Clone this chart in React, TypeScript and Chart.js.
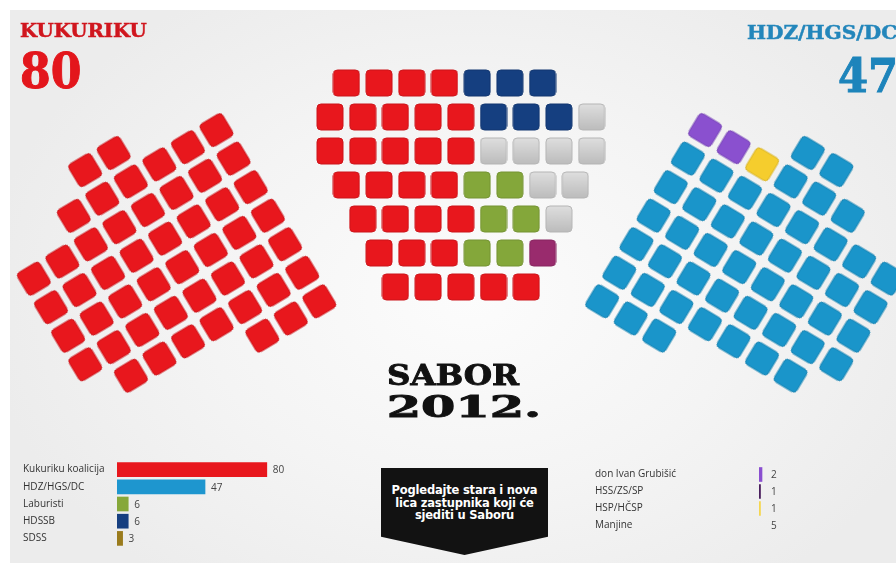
import React, { useEffect, useRef } from 'react';
import { Chart, registerables } from 'chart.js';
Chart.register(...registerables);

const W = 896;
const H = 563;

// ---- data ----
const partyNames = ['Kukuriku koalicija', 'HDZ/HGS/DC', 'Laburisti', 'HDSSB', 'SDSS'];
const partySeats = [80, 47, 6, 6, 3];
const partyColors = ['#e8171d', '#1e96cf', '#86a83a', '#163f80', '#9a7b1c'];

const minorNames = ['don Ivan Grubišić', 'HSS/ZS/SP', 'HSP/HČSP', 'Manjine'];
const minorSeats = [2, 1, 1, 5];
const minorColors = ['#8a4fd0', '#4a1f5e', '#f5d650', 'rgba(0,0,0,0)'];

// seat codes: K Kukuriku, H HDZ/HGS/DC, L Laburisti, B HDSSB, M manjine (SDSS + ostale),
// S HSS/ZS/SP, G don Ivan Grubišić, P HSP/HČSP
const seatColors: Record<string, string> = {
  K: '#e8171d', H: '#1a95ca', L: '#84a73a', B: '#153f80',
  M: '#c9c9c9', S: '#992b6d', G: '#8a50cf', P: '#f5cd2d',
};
const leftWingFill: [string, number][] = [['K', 50]];
const rightWingFill: [string, number][] = [['H', 2], ['G', 2], ['P', 1], ['H', 45]];
const centerRows = ['KKKKBBB', 'KKKKKBBBM', 'KKKKKMMMM', 'KKKKLLMM', 'KKKKLLM', 'KKKLLS', 'KKKKK'];

// ---- layout (not data) ----
const centerShift = [0.5, 0, 0, 0.5, 1, 1.5, 2];
const wingRows: [number, number][] = [[3, 4], [2, 7], [0, 7], [0, 7], [0, 7], [0, 7], [1, 7], [5, 7]];
const WING_LAST = 7;
const PITCH = 33.3;
const ANGLE = 31;
const LEFT_O = { x: -0.5, y: 221.6 };
const RIGHT_O = { x: 722.2, y: 101.5 };
const CENTER_O = { x: 330, y: 83 };
const CENTER_PX = 32.7;
const CENTER_PY = 34;
const SEAT = 26;

type Seat = { x: number; y: number; rot: number; code: string };

function expand(fill: [string, number][]): string[] {
  const out: string[] = [];
  fill.forEach(([c, n]) => { for (let i = 0; i < n; i++) out.push(c); });
  return out;
}

function buildSeats(): Seat[] {
  const seats: Seat[] = [];
  const rad = (ANGLE * Math.PI) / 180;
  const c = Math.cos(rad) * PITCH;
  const s = Math.sin(rad) * PITCH;
  const lc = expand(leftWingFill);
  let k = 0;
  wingRows.forEach(([a, b], j) => {
    for (let i = a; i <= b; i++) {
      seats.push({ x: LEFT_O.x + i * c + j * s, y: LEFT_O.y - i * s + j * c, rot: -ANGLE, code: lc[k++] });
    }
  });
  const rc = expand(rightWingFill);
  k = 0;
  wingRows.forEach(([a, b], j) => {
    for (let i = WING_LAST - b; i <= WING_LAST - a; i++) {
      seats.push({ x: RIGHT_O.x + i * c - j * s, y: RIGHT_O.y + i * s + j * c, rot: ANGLE, code: rc[k++] });
    }
  });
  centerRows.forEach((row, r) => {
    row.split('').forEach((code, ci) => {
      seats.push({ x: CENTER_O.x + (centerShift[r] + ci) * CENTER_PX, y: CENTER_O.y + r * CENTER_PY, rot: 0, code });
    });
  });
  return seats;
}

function shade(hex: string, f: number): string {
  const n = parseInt(hex.slice(1), 16);
  const r = Math.max(0, Math.min(255, Math.round(((n >> 16) & 255) * f)));
  const g = Math.max(0, Math.min(255, Math.round(((n >> 8) & 255) * f)));
  const b = Math.max(0, Math.min(255, Math.round((n & 255) * f)));
  return `rgb(${r},${g},${b})`;
}

function seatImage(code: string): HTMLCanvasElement {
  const cv = document.createElement('canvas');
  cv.width = SEAT + 2;
  cv.height = SEAT + 2;
  const g = cv.getContext('2d')!;
  const r = 4;
  const x0 = 1, y0 = 1, w = SEAT, h = SEAT;
  g.beginPath();
  g.moveTo(x0 + r, y0);
  g.lineTo(x0 + w - r, y0);
  g.quadraticCurveTo(x0 + w, y0, x0 + w, y0 + r);
  g.lineTo(x0 + w, y0 + h - r);
  g.quadraticCurveTo(x0 + w, y0 + h, x0 + w - r, y0 + h);
  g.lineTo(x0 + r, y0 + h);
  g.quadraticCurveTo(x0, y0 + h, x0, y0 + h - r);
  g.lineTo(x0, y0 + r);
  g.quadraticCurveTo(x0, y0, x0 + r, y0);
  g.closePath();
  const base = seatColors[code];
  if (code === 'M') {
    const gr = g.createLinearGradient(0, y0, 0, y0 + h);
    gr.addColorStop(0, '#dedede');
    gr.addColorStop(1, '#bcbcbc');
    g.fillStyle = gr;
  } else {
    g.fillStyle = base;
  }
  g.fill();
  g.lineWidth = 1;
  g.strokeStyle = code === 'M' ? '#b5b5b5' : shade(base, 0.88);
  g.stroke();
  return cv;
}

const valuePlugin = (fixedX: number | null) => ({
  id: 'valueLabels',
  afterDatasetsDraw(chart: any) {
    const ctx = chart.ctx;
    const meta = chart.getDatasetMeta(0);
    const data = chart.data.datasets[0].data as number[];
    ctx.save();
    ctx.font = '10px "Open Sans"';
    ctx.fillStyle = '#444';
    ctx.textBaseline = 'middle';
    ctx.textAlign = 'left';
    meta.data.forEach((el: any, i: number) => {
      const x = fixedX == null ? el.x + 6 : chart.chartArea.left + fixedX;
      ctx.fillText(String(data[i]), x, el.y + 1);
    });
    ctx.restore();
  },
});

function barOptions(axisWidth: number, xMax: number): any {
  return {
    responsive: false,
    animation: false,
    indexAxis: 'y',
    events: [],
    layout: { padding: 0, autoPadding: false },
    plugins: { legend: { display: false }, tooltip: { enabled: false } },
    scales: {
      x: { display: false, min: 0, max: xMax },
      y: {
        grid: { display: false },
        border: { display: false },
        ticks: { crossAlign: 'far', padding: 0, color: '#333', font: { family: 'Open Sans', size: 10 }, autoSkip: false },
        afterFit: (scale: any) => { scale.width = axisWidth; },
      },
    },
  };
}

const serif = '"DejaVu Serif", "Liberation Serif", serif';

function Txt(props: { left: number; top: number; size: number; color: string; text: string; sx?: number; width?: number; align?: 'left' | 'center'; stroke?: number }) {
  const { left, top, size, color, text, sx = 1, width, align = 'left', stroke = 0 } = props;
  return (
    <div
      style={{
        position: 'absolute', left, top, width, fontFamily: serif, fontWeight: 'bold', fontSize: size,
        lineHeight: 1, color, whiteSpace: 'nowrap', textAlign: align,
        WebkitTextStroke: stroke ? `${stroke}px ${color}` : undefined,
        transform: `scaleX(${sx})`, transformOrigin: align === 'center' ? 'center top' : 'left top',
      }}
    >
      {text}
    </div>
  );
}

export default function App() {
  const seatRef = useRef<HTMLCanvasElement>(null);
  const leftRef = useRef<HTMLCanvasElement>(null);
  const rightRef = useRef<HTMLCanvasElement>(null);

  useEffect(() => {
    const seats = buildSeats();
    const codes = Object.keys(seatColors);
    const seatChart = new Chart(seatRef.current!, {
      type: 'scatter',
      data: {
        datasets: codes.map((code) => ({
          label: code,
          data: seats.filter((s) => s.code === code).map((s) => ({ x: s.x, y: s.y, rot: s.rot })) as any,
          pointStyle: seatImage(code) as any,
          pointRadius: 14,
          rotation: ((ctx: any) => (ctx.raw ? ctx.raw.rot : 0)) as any,
          clip: false as any,
        })),
      },
      options: {
        responsive: false,
        animation: false,
        events: [],
        layout: { padding: 0, autoPadding: false },
        plugins: { legend: { display: false }, tooltip: { enabled: false } },
        scales: {
          x: { type: 'linear', min: 0, max: W, display: false },
          y: { type: 'linear', min: 0, max: H, reverse: true, display: false },
        },
      } as any,
    });

    const leftChart = new Chart(leftRef.current!, {
      type: 'bar',
      data: {
        labels: partyNames,
        datasets: [{ data: partySeats, backgroundColor: partyColors, barThickness: 14 }],
      },
      options: barOptions(94, 110),
      plugins: [valuePlugin(null)],
    });

    const rightChart = new Chart(rightRef.current!, {
      type: 'bar',
      data: {
        labels: minorNames,
        datasets: [{ data: minorSeats, backgroundColor: minorColors, barThickness: 14 }],
      },
      options: barOptions(164, 24),
      plugins: [valuePlugin(12)],
    });

    return () => {
      seatChart.destroy();
      leftChart.destroy();
      rightChart.destroy();
    };
  }, []);

  return (
    <div style={{ position: 'fixed', left: 0, top: 0, width: W, height: H, overflow: 'hidden', background: '#fff' }}>
      <div
        style={{
          position: 'absolute', left: 10, top: 10, right: 0, bottom: 0,
          background: 'radial-gradient(ellipse 55% 65% at 52% 52%, #fcfcfc 0%, #f4f4f4 55%, #ececec 100%)',
        }}
      />
      <canvas ref={seatRef} width={W} height={H} style={{ position: 'absolute', left: 0, top: 0, width: W, height: H }} />
      <canvas ref={leftRef} width={300} height={98} style={{ position: 'absolute', left: 23, top: 455, width: 300, height: 98 }} />
      <canvas ref={rightRef} width={200} height={80} style={{ position: 'absolute', left: 595, top: 460, width: 200, height: 80 }} />

      <Txt left={20} top={21} size={19} color="#d0161e" text="KUKURIKU" sx={1.04} stroke={0.5} />
      <Txt left={20} top={47} size={48} color="#e3161c" text="80" sx={0.92} stroke={1} />
      <Txt left={747} top={23} size={19} color="#2386bb" text="HDZ/HGS/DC" sx={1.06} stroke={0.5} />
      <Txt left={838} top={52} size={47} color="#1d84bb" text="47" sx={0.92} stroke={1} />

      <Txt left={353} top={362} width={200} align="center" size={28} color="#111" text="SABOR" sx={1.16} stroke={0.9} />
      <Txt left={364} top={393} width={200} align="center" size={29} color="#111" text="2012." sx={1.7} stroke={0.9} />

      <div
        style={{
          position: 'absolute', left: 381, top: 468, width: 167, height: 87, background: '#121212',
          clipPath: 'polygon(0 0, 100% 0, 100% 79%, 50% 100%, 0 79%)',
          color: '#fff', fontFamily: '"DejaVu Sans", "Liberation Sans", sans-serif', fontWeight: 'bold', fontSize: 11.5,
          lineHeight: '12.5px', textAlign: 'center', paddingTop: 16, boxSizing: 'border-box', whiteSpace: 'nowrap',
          letterSpacing: -0.2,
        }}
      >
        Pogledajte stara i nova
        <br />
        lica zastupnika koji će
        <br />
        sjediti u Saboru
      </div>
    </div>
  );
}
